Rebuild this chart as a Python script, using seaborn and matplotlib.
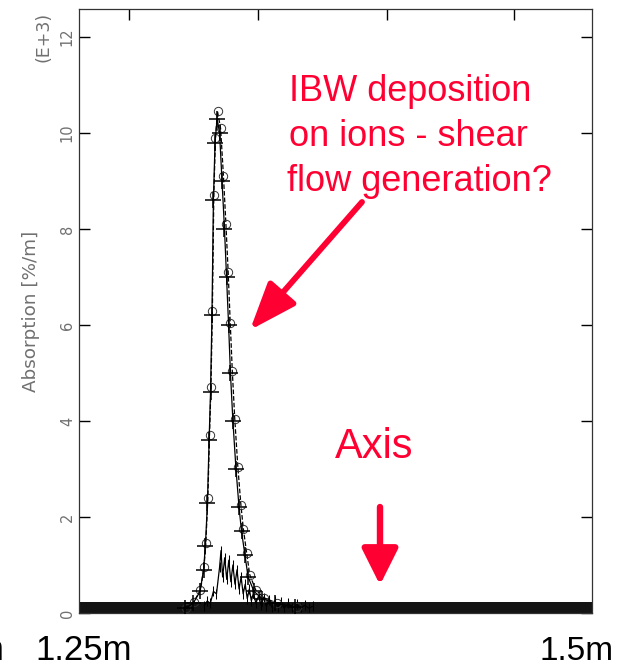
import numpy as np
import pandas as pd
import matplotlib
matplotlib.use("Agg")
import matplotlib.pyplot as plt
import seaborn as sns

# ---------------- data ----------------
# main peak, solid curve (+ markers)
solid_R = [1.3017, 1.3056, 1.3090, 1.3107, 1.3116, 1.3126, 1.3134, 1.3141, 1.3148,
           1.3155, 1.3163, 1.3173, 1.3185, 1.3197, 1.3209, 1.3219, 1.3229, 1.3238,
           1.3250, 1.3265, 1.3280, 1.3292, 1.3309, 1.3324, 1.3353, 1.3392, 1.3455, 1.3553]
solid_A = [0.10, 0.20, 0.45, 0.90, 1.40, 2.30, 3.60, 4.60, 6.20,
           8.60, 9.80, 10.30, 10.00, 9.00, 8.00, 7.00, 6.00, 5.00,
           4.00, 3.00, 2.20, 1.70, 1.20, 0.75, 0.45, 0.30, 0.20, 0.12]

# main peak, dashed curve (o markers)
dashed_R = [1.3020, 1.3058, 1.3092, 1.3109, 1.3118, 1.3128, 1.3136, 1.3143, 1.3150,
            1.3157, 1.3165, 1.3175, 1.3190, 1.3204, 1.3216, 1.3227, 1.3237, 1.3247,
            1.3259, 1.3274, 1.3289, 1.3301, 1.3317, 1.3332, 1.3361, 1.3400, 1.3463, 1.3561]
dashed_A = [0.10, 0.22, 0.48, 0.95, 1.45, 2.40, 3.70, 4.70, 6.30,
            8.70, 9.90, 10.45, 10.10, 9.10, 8.10, 7.10, 6.05, 5.05,
            4.05, 3.05, 2.25, 1.75, 1.25, 0.80, 0.48, 0.32, 0.21, 0.13]

# small (electron) curve with strong point-to-point jitter
small_R = [1.3110, 1.3125, 1.3140, 1.3155, 1.3170, 1.3185, 1.3192, 1.3200, 1.3210,
           1.3220, 1.3230, 1.3240, 1.3250, 1.3260, 1.3270, 1.3280, 1.3290, 1.3300,
           1.3310, 1.3320, 1.3330, 1.3340, 1.3350, 1.3362, 1.3375, 1.3388, 1.3400,
           1.3413, 1.3426, 1.3440, 1.3455, 1.3470, 1.3485, 1.3500, 1.3520, 1.3540,
           1.3560, 1.3580, 1.3600, 1.3620, 1.3640]
small_A = [0.15, 0.25, 0.20, 0.45, 0.40, 0.95, 1.30, 0.75, 1.15,
           0.70, 1.10, 0.65, 1.00, 0.60, 0.90, 0.50, 0.75, 0.40,
           0.60, 0.30, 0.50, 0.25, 0.42, 0.20, 0.36, 0.16, 0.32,
           0.14, 0.28, 0.12, 0.25, 0.12, 0.22, 0.10, 0.20, 0.10,
           0.18, 0.10, 0.16, 0.10, 0.14]

# dense noise band along the baseline
band_R = [1.25, 1.50]
band_A = [0.22, 0.22]

y_ticks = [0, 2, 4, 6, 8, 10, 12]
y_ticklabels = ["0", "2", "4", "6", "8", "10", "12"]
x_ticks = [1.2744, 1.3372, 1.4001, 1.4620]

RED = "#ff0033"
GRAY = "#707070"

# ---------------- figure ----------------
sns.set_theme(style="white")
plt.rcParams["font.family"] = ["Liberation Sans", "DejaVu Sans"]

W, H = 633, 667
fig = plt.figure(figsize=(W / 100, H / 100), dpi=100)
fig.patch.set_facecolor("white")

def fx(px):
    return px / W

def fy(py):
    return 1 - py / H

ax = fig.add_axes([fx(79), fy(613), (592 - 79) / W, (613 - 9) / H])
ax.set_facecolor("white")

df_s = pd.DataFrame({"R": solid_R, "A": solid_A})
df_d = pd.DataFrame({"R": dashed_R, "A": dashed_A})
df_e = pd.DataFrame({"R": small_R, "A": small_A})

ax.fill_between(band_R, 0, band_A, color="#141414", lw=0, zorder=1)

sns.lineplot(data=df_d, x="R", y="A", ax=ax, sort=False, color="black",
             lw=0.9, linestyle="--", marker="o", markersize=6,
             markerfacecolor="none", markeredgecolor="#333333",
             markeredgewidth=0.7, zorder=3)
sns.lineplot(data=df_s, x="R", y="A", ax=ax, sort=False, color="black",
             lw=0.9, marker="+", markersize=11, markeredgewidth=1.1,
             markeredgecolor="black", zorder=4)
sns.lineplot(data=df_e, x="R", y="A", ax=ax, sort=False, color="black",
             lw=0.9, marker="|", markersize=7, markeredgecolor="black",
             zorder=2)

ax.set_xlim(1.25, 1.50)
ax.set_ylim(0, 12.584)
ax.set_xticks(x_ticks)
ax.set_xticklabels([])
ax.set_yticks(y_ticks)
ax.set_yticklabels(y_ticklabels, rotation=90, va="center", color=GRAY,
                   fontsize=10.5, family=["DejaVu Sans"])
ax.set_xlabel("")
ax.set_ylabel("")
ax.tick_params(axis="both", direction="in", length=8, width=1.0,
               top=True, right=True, bottom=True, left=True,
               labelbottom=False, labelright=False, labeltop=False,
               color="black", pad=3)
for s in ax.spines.values():
    s.set_visible(True)
    s.set_color("#333333")
    s.set_linewidth(0.9)

# axis annotations (grey, rotated)
fig.text(fx(44), fy(37), "(E+3)", rotation=90, ha="center", va="center",
         color=GRAY, fontsize=12.5, family=["DejaVu Sans"])
fig.text(fx(31), fy(311), "Absorption [%/m]", rotation=90, ha="center",
         va="center", color=GRAY, fontsize=13.2, family=["DejaVu Sans"])

# red callouts
fig.text(fx(289), fy(101), "IBW deposition", color=RED, fontsize=26,
         ha="left", va="baseline")
fig.text(fx(289), fy(146), "on ions - shear", color=RED, fontsize=26,
         ha="left", va="baseline")
fig.text(fx(287), fy(191), "flow generation?", color=RED, fontsize=26,
         ha="left", va="baseline")
fig.text(fx(335), fy(458), "Axis", color=RED, fontsize=30,
         ha="left", va="baseline")

ax.annotate("", xy=(250, H - 330), xytext=(362, H - 202),
            xycoords="figure pixels", textcoords="figure pixels",
            arrowprops=dict(arrowstyle="-|>,head_length=2.9,head_width=1.1",
                            mutation_scale=10, lw=4.2, color=RED,
                            shrinkA=0, shrinkB=0))
ax.annotate("", xy=(380, H - 585), xytext=(380, H - 507),
            xycoords="figure pixels", textcoords="figure pixels",
            arrowprops=dict(arrowstyle="-|>,head_length=2.2,head_width=1.1",
                            mutation_scale=10, lw=4.6, color=RED,
                            shrinkA=0, shrinkB=0))

# slide labels under the axis
fig.text(fx(35), fy(660), "1.25m", color="black", fontsize=25,
         ha="left", va="baseline")
fig.text(fx(540), fy(660), "1.5m", color="black", fontsize=24,
         ha="left", va="baseline")
fig.text(fx(4), fy(660), "m", color="black", fontsize=25,
         ha="right", va="baseline")

fig.savefig("out.png", dpi=100, facecolor="white")
